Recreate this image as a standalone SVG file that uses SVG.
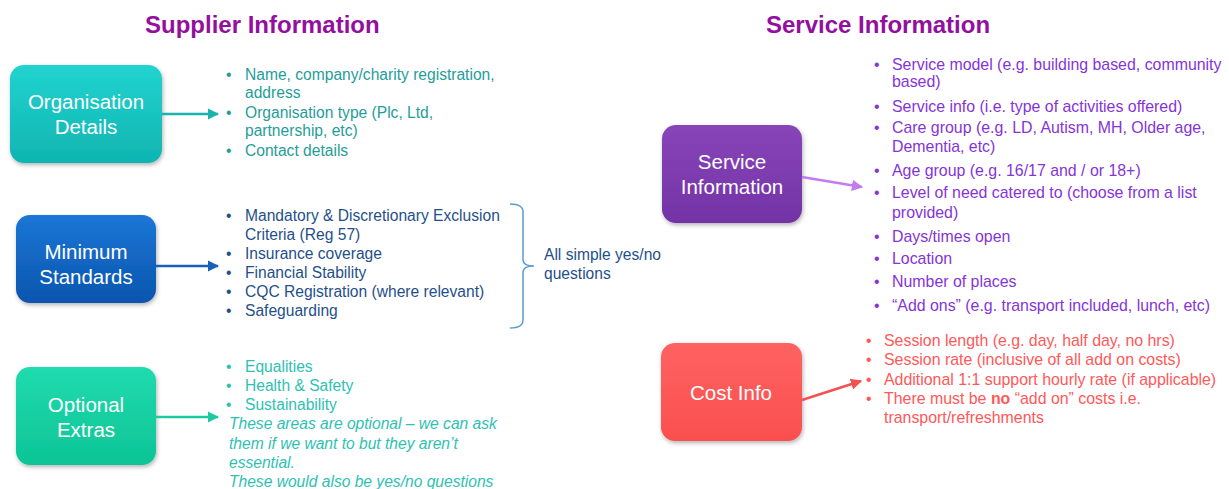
<svg xmlns="http://www.w3.org/2000/svg" width="1229" height="489" viewBox="0 0 1229 489">
<defs>
<linearGradient id="gTeal" x1="0" y1="0" x2="0" y2="1"><stop offset="0" stop-color="#22D3CF"/><stop offset="1" stop-color="#0FB5B1"/></linearGradient>
<linearGradient id="gBlue" x1="0" y1="0" x2="0" y2="1"><stop offset="0" stop-color="#1B76D6"/><stop offset="1" stop-color="#0A55AE"/></linearGradient>
<linearGradient id="gGreen" x1="0" y1="0" x2="0" y2="1"><stop offset="0" stop-color="#20DBAE"/><stop offset="1" stop-color="#0DC496"/></linearGradient>
<linearGradient id="gPurple" x1="0" y1="0" x2="0" y2="1"><stop offset="0" stop-color="#8745B8"/><stop offset="1" stop-color="#7333A6"/></linearGradient>
<linearGradient id="gRed" x1="0" y1="0" x2="0" y2="1"><stop offset="0" stop-color="#FF6262"/><stop offset="1" stop-color="#FA4F4F"/></linearGradient>
<filter id="sh" x="-10%" y="-10%" width="130%" height="130%"><feDropShadow dx="1" dy="2" stdDeviation="2" flood-color="#000" flood-opacity="0.3"/></filter>
<marker id="aTeal" viewBox="0 0 10 10" refX="9" refY="5" markerWidth="4.5" markerHeight="4.5" orient="auto"><path d="M0,0 L10,5 L0,10 z" fill="#1AB4B0"/></marker>
<marker id="aBlue" viewBox="0 0 10 10" refX="9" refY="5" markerWidth="4.5" markerHeight="4.5" orient="auto"><path d="M0,0 L10,5 L0,10 z" fill="#1662B6"/></marker>
<marker id="aGreen" viewBox="0 0 10 10" refX="9" refY="5" markerWidth="4.5" markerHeight="4.5" orient="auto"><path d="M0,0 L10,5 L0,10 z" fill="#1FC9A0"/></marker>
<marker id="aPurple" viewBox="0 0 10 10" refX="9" refY="5" markerWidth="4.5" markerHeight="4.5" orient="auto"><path d="M0,0 L10,5 L0,10 z" fill="#C27CF2"/></marker>
<marker id="aRed" viewBox="0 0 10 10" refX="9" refY="5" markerWidth="4.5" markerHeight="4.5" orient="auto"><path d="M0,0 L10,5 L0,10 z" fill="#F25252"/></marker>
</defs>
<style>
text{font-family:"Liberation Sans",Arial,sans-serif}
.title{font-size:24px;font-weight:bold;fill:#930F9E}
.node{font-size:20.5px;fill:#FFFFFF;text-anchor:middle}
.t15{font-size:15.6px}
.t16{font-size:15.9px}
.teal{fill:#1F9D99}
.navy{fill:#1F4F8A}
.green{fill:#2EC1B2}
.purp{fill:#8534D8}
.red{fill:#FF5858}
.it{font-style:italic}
.conn{fill:none;stroke-width:2.5}
</style>

<text class="title" x="145" y="33">Supplier Information</text>
<text class="title" x="766" y="33">Service Information</text>

<g id="node-org">
<rect x="10" y="65" width="152" height="98" rx="14" fill="url(#gTeal)" filter="url(#sh)"/>
<text class="node" x="86" y="109">Organisation</text>
<text class="node" x="86" y="134">Details</text>
</g>
<g id="node-min">
<rect x="16" y="215" width="140" height="88" rx="14" fill="url(#gBlue)" filter="url(#sh)"/>
<text class="node" x="86" y="259">Minimum</text>
<text class="node" x="86" y="284">Standards</text>
</g>
<g id="node-opt">
<rect x="16" y="367" width="140" height="98" rx="14" fill="url(#gGreen)" filter="url(#sh)"/>
<text class="node" x="86" y="412">Optional</text>
<text class="node" x="86" y="437">Extras</text>
</g>
<g id="node-service">
<rect x="662" y="125" width="140" height="98" rx="14" fill="url(#gPurple)" filter="url(#sh)"/>
<text class="node" x="732" y="169">Service</text>
<text class="node" x="732" y="194">Information</text>
</g>
<g id="node-cost">
<rect x="661" y="343" width="141" height="98" rx="14" fill="url(#gRed)" filter="url(#sh)"/>
<text class="node" x="731" y="400">Cost Info</text>
</g>

<g id="connectors">
<line class="conn" x1="162" y1="114" x2="218" y2="114" stroke="#1AB4B0" marker-end="url(#aTeal)"/>
<line class="conn" x1="156" y1="266" x2="218" y2="266" stroke="#1662B6" marker-end="url(#aBlue)"/>
<line class="conn" x1="156" y1="417" x2="218" y2="417" stroke="#1FC9A0" marker-end="url(#aGreen)"/>
<line class="conn" x1="802" y1="177" x2="862" y2="187" stroke="#C27CF2" marker-end="url(#aPurple)"/>
<line class="conn" x1="802" y1="400" x2="861" y2="381" stroke="#F25252" marker-end="url(#aRed)"/>
<path d="M510,204 Q523,204 523,212 L523,260 Q523,266 534,266 Q523,266 523,272 L523,320 Q523,328 510,328" fill="none" stroke="#5B9BD5" stroke-width="1.5"/>
</g>

<g id="text-org" class="t15 teal">
<text x="226" y="80">•</text><text x="245" y="80">Name, company/charity registration,</text>
<text x="245" y="98">address</text>
<text x="226" y="118">•</text><text x="245" y="118">Organisation type (Plc, Ltd,</text>
<text x="245" y="136">partnership, etc)</text>
<text x="226" y="156">•</text><text x="245" y="156">Contact details</text>
</g>

<g id="text-min" class="t15 navy">
<text x="226" y="221">•</text><text x="245" y="221">Mandatory &amp; Discretionary Exclusion</text>
<text x="245" y="240">Criteria (Reg 57)</text>
<text x="226" y="259">•</text><text x="245" y="259">Insurance coverage</text>
<text x="226" y="278">•</text><text x="245" y="278">Financial Stability</text>
<text x="226" y="297">•</text><text x="245" y="297">CQC Registration (where relevant)</text>
<text x="226" y="316">•</text><text x="245" y="316">Safeguarding</text>
</g>

<g id="text-yesno" class="t15 navy">
<text x="544" y="260">All simple yes/no</text>
<text x="544" y="279">questions</text>
</g>

<g id="text-opt" class="t15 green">
<text x="226" y="372">•</text><text x="245" y="372">Equalities</text>
<text x="226" y="391">•</text><text x="245" y="391">Health &amp; Safety</text>
<text x="226" y="410">•</text><text x="245" y="410">Sustainability</text>
<text class="it" x="229" y="429">These areas are optional – we can ask</text>
<text class="it" x="229" y="449">them if we want to but they aren’t</text>
<text class="it" x="229" y="468">essential.</text>
<text class="it" x="229" y="487">These would also be yes/no questions</text>
</g>

<g id="text-service" class="t16 purp">
<text x="874" y="70">•</text><text x="892" y="70">Service model (e.g. building based, community</text>
<text x="892" y="87">based)</text>
<text x="874" y="112">•</text><text x="892" y="112">Service info (i.e. type of activities offered)</text>
<text x="874" y="133">•</text><text x="892" y="133">Care group (e.g. LD, Autism, MH, Older age,</text>
<text x="892" y="152">Dementia, etc)</text>
<text x="874" y="176">•</text><text x="892" y="176">Age group (e.g. 16/17 and / or 18+)</text>
<text x="874" y="198">•</text><text x="892" y="198">Level of need catered to (choose from a list</text>
<text x="892" y="218">provided)</text>
<text x="874" y="242">•</text><text x="892" y="242">Days/times open</text>
<text x="874" y="264">•</text><text x="892" y="264">Location</text>
<text x="874" y="287">•</text><text x="892" y="287">Number of places</text>
<text x="874" y="311">•</text><text x="892" y="311">“Add ons” (e.g. transport included, lunch, etc)</text>
</g>

<g id="text-cost" class="t16 red">
<text x="866" y="346">•</text><text x="884" y="346">Session length (e.g. day, half day, no hrs)</text>
<text x="866" y="365">•</text><text x="884" y="365">Session rate (inclusive of all add on costs)</text>
<text x="866" y="385">•</text><text x="884" y="385">Additional 1:1 support hourly rate (if applicable)</text>
<text x="866" y="404">•</text><text x="884" y="404">There must be <tspan font-weight="bold">no</tspan> “add on” costs i.e.</text>
<text x="884" y="423">transport/refreshments</text>
</g>
</svg>
